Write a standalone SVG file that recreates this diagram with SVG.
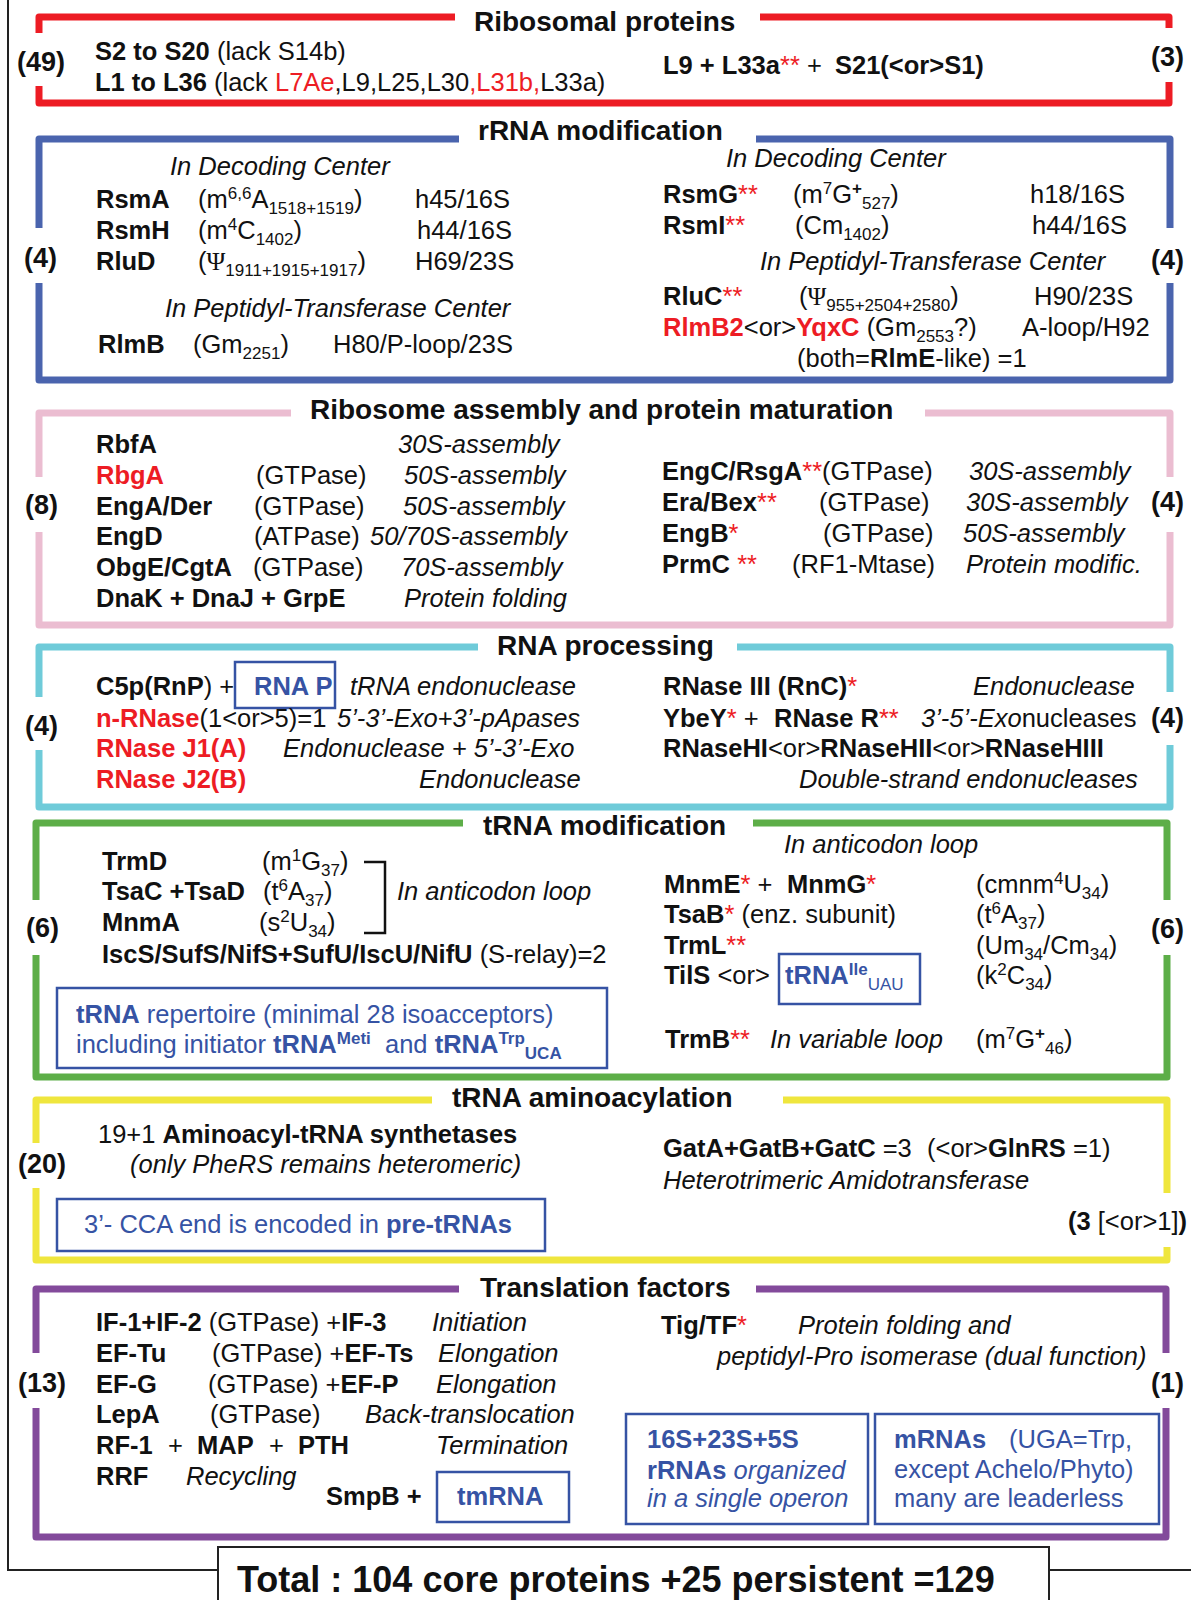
<svg xmlns="http://www.w3.org/2000/svg" width="1191" height="1600" viewBox="0 0 1191 1600">
<style>
text{font-family:"Liberation Sans",Arial,sans-serif;font-size:25.5px;fill:#111}
.b{font-weight:bold}
.i{font-style:italic}
.r{fill:#ED1C24}
.bl{fill:#3653A4}
.t{font-size:28px;font-weight:bold}
.n{font-size:27px;font-weight:bold}
.s{font-size:17px}
.g{font-family:"Liberation Serif","Times New Roman",serif}
.br{fill:none;stroke-width:7;stroke-linejoin:round}
.box{fill:none;stroke:#3653A4;stroke-width:2.5}
.frame{fill:none;stroke:#222;stroke-width:2}
</style>
<rect width="1191" height="1600" fill="#fff"/>

<g id="frame">
<path class="frame" d="M8,0 V1570 H218 M218,1600 V1547 H1049 V1600 M1049,1570 H1191"/>
<text class="b" x="237" y="1592" style="font-size:36px">Total : 104 core proteins +25 persistent =129</text>
</g>

<g id="ribosomal-proteins">
<path class="br" stroke="#ED1C24" d="M39,33 V17 H455 M760,17 H1169 V28 M1169,82 V103 H39 V86"/>
<text class="t" x="474" y="31">Ribosomal proteins</text>
<text class="n" x="17" y="71">(49)</text>
<text x="95" y="60"><tspan class="b">S2 to S20</tspan> (lack S14b)</text>
<text x="95" y="91"><tspan class="b">L1 to L36</tspan> (lack <tspan class="r">L7Ae</tspan>,L9,L25,L30<tspan class="r">,L31b,</tspan>L33a)</text>
<text x="663" y="74"><tspan class="b">L9 + L33a</tspan><tspan class="r">**</tspan> + <tspan class="b" x="835">S21(&lt;or&gt;S1)</tspan></text>
<text class="n" x="1151" y="66">(3)</text>
</g>

<g id="rrna-modification">
<path class="br" stroke="#4A64AE" d="M39,228 V139 H459 M756,139 H1170 V228 M1170,283 V380 H39 V283"/>
<text class="t" x="478" y="140">rRNA modification</text>
<text class="n" x="24" y="267">(4)</text>
<text class="i" x="170" y="175">In Decoding Center</text>
<text class="b" x="96" y="208">RsmA</text>
<text x="198" y="208">(m<tspan class="s" dy="-9">6,6</tspan><tspan dy="9">A</tspan><tspan class="s" dy="6">1518+1519</tspan><tspan dy="-6">)</tspan></text>
<text x="415" y="208">h45/16S</text>
<text class="b" x="96" y="239">RsmH</text>
<text x="198" y="239">(m<tspan class="s" dy="-9">4</tspan><tspan dy="9">C</tspan><tspan class="s" dy="6">1402</tspan><tspan dy="-6">)</tspan></text>
<text x="417" y="239">h44/16S</text>
<text class="b" x="96" y="270">RluD</text>
<text x="198" y="270">(<tspan class="g">Ψ</tspan><tspan class="s" dy="6">1911+1915+1917</tspan><tspan dy="-6">)</tspan></text>
<text x="415" y="270">H69/23S</text>
<text class="i" x="165" y="317">In Peptidyl-Transferase Center</text>
<text class="b" x="98" y="353">RlmB</text>
<text x="193" y="353">(Gm<tspan class="s" dy="6">2251</tspan><tspan dy="-6">)</tspan></text>
<text x="333" y="353">H80/P-loop/23S</text>

<text class="i" x="726" y="167">In Decoding Center</text>
<text x="663" y="203"><tspan class="b">RsmG</tspan><tspan class="r">**</tspan></text>
<text x="793" y="203">(m<tspan class="s" dy="-9">7</tspan><tspan dy="9">G</tspan><tspan class="s b" dy="-9">+</tspan><tspan class="s" dy="15">527</tspan><tspan dy="-6">)</tspan></text>
<text x="1030" y="203">h18/16S</text>
<text x="663" y="234"><tspan class="b">RsmI</tspan><tspan class="r">**</tspan></text>
<text x="795" y="234">(Cm<tspan class="s" dy="6">1402</tspan><tspan dy="-6">)</tspan></text>
<text x="1032" y="234">h44/16S</text>
<text class="i" x="760" y="270">In Peptidyl-Transferase Center</text>
<text x="663" y="305"><tspan class="b">RluC</tspan><tspan class="r">**</tspan></text>
<text x="799" y="305">(<tspan class="g">Ψ</tspan><tspan class="s" dy="6">955+2504+2580</tspan><tspan dy="-6">)</tspan></text>
<text x="1034" y="305">H90/23S</text>
<text x="663" y="336"><tspan class="b r">RlmB2</tspan>&lt;or&gt;<tspan class="b r">YqxC</tspan> (Gm<tspan class="s" dy="6">2553</tspan><tspan dy="-6">?)</tspan></text>
<text x="1022" y="336">A-loop/H92</text>
<text x="797" y="367">(both=<tspan class="b">RlmE</tspan>-like) =1</text>
<text class="n" x="1151" y="269">(4)</text>
</g>

<g id="ribosome-assembly">
<path class="br" stroke="#EBBDD1" d="M39,477 V413 H291 M925,413 H1170 V477 M1170,532 V625 H39 V532"/>
<text class="t" x="310" y="419">Ribosome assembly and protein maturation</text>
<text class="n" x="25" y="514">(8)</text>
<text class="b" x="96" y="453">RbfA</text>
<text class="i" x="398" y="453">30S-assembly</text>
<text class="b r" x="96" y="484">RbgA</text>
<text x="256" y="484">(GTPase)</text>
<text class="i" x="404" y="484">50S-assembly</text>
<text class="b" x="96" y="515">EngA/Der</text>
<text x="254" y="515">(GTPase)</text>
<text class="i" x="403" y="515">50S-assembly</text>
<text class="b" x="96" y="545">EngD</text>
<text x="254" y="545">(ATPase)</text>
<text class="i" x="370" y="545">50/70S-assembly</text>
<text class="b" x="96" y="576">ObgE/CgtA</text>
<text x="253" y="576">(GTPase)</text>
<text class="i" x="401" y="576">70S-assembly</text>
<text class="b" x="96" y="607">DnaK + DnaJ + GrpE</text>
<text class="i" x="404" y="607">Protein folding</text>

<text x="662" y="480"><tspan class="b">EngC/RsgA</tspan><tspan class="r">**</tspan>(GTPase)</text>
<text class="i" x="969" y="480">30S-assembly</text>
<text x="662" y="511"><tspan class="b">Era/Bex</tspan><tspan class="r">**</tspan></text>
<text x="819" y="511">(GTPase)</text>
<text class="i" x="966" y="511">30S-assembly</text>
<text x="662" y="542"><tspan class="b">EngB</tspan><tspan class="r">*</tspan></text>
<text x="823" y="542">(GTPase)</text>
<text class="i" x="963" y="542">50S-assembly</text>
<text x="662" y="573"><tspan class="b">PrmC</tspan> <tspan class="r">**</tspan></text>
<text x="792" y="573">(RF1-Mtase)</text>
<text class="i" x="966" y="573">Protein modific.</text>
<text class="n" x="1151" y="511">(4)</text>
</g>

<g id="rna-processing">
<path class="br" stroke="#6FCBD9" d="M39,697 V647 H478 M737,647 H1170 V692 M1170,745 V807 H39 V750"/>
<text class="t" x="497" y="655">RNA processing</text>
<text class="n" x="25" y="735">(4)</text>
<text x="96" y="695"><tspan class="b">C5p(RnP</tspan>) +</text>
<rect class="box" x="235" y="662" width="100" height="46"/>
<text class="b bl" x="254" y="695">RNA P</text>
<text class="i" x="350" y="695">tRNA endonuclease</text>
<text x="96" y="727"><tspan class="b r">n-RNase</tspan>(1&lt;or&gt;5)=1</text>
<text class="i" x="337" y="727">5’-3’-Exo+3’-pApases</text>
<text class="b r" x="96" y="757">RNase J1(A)</text>
<text class="i" x="283" y="757">Endonuclease + 5’-3’-Exo</text>
<text class="b r" x="96" y="788">RNase J2(B)</text>
<text class="i" x="419" y="788">Endonuclease</text>

<text x="663" y="695"><tspan class="b">RNase III (RnC)</tspan><tspan class="r">*</tspan></text>
<text class="i" x="973" y="695">Endonuclease</text>
<text x="663" y="727"><tspan class="b">YbeY</tspan><tspan class="r">*</tspan> + <tspan class="b" x="774">RNase R</tspan><tspan class="r">**</tspan></text>
<text x="921" y="727"><tspan class="i">3’-5’-Exo</tspan>nucleases</text>
<text x="663" y="757"><tspan class="b">RNaseHI</tspan>&lt;or&gt;<tspan class="b">RNaseHII</tspan>&lt;or&gt;<tspan class="b">RNaseHIII</tspan></text>
<text class="i" x="799" y="788">Double-strand endonucleases</text>
<text class="n" x="1151" y="727">(4)</text>
</g>

<g id="trna-modification">
<path class="br" stroke="#5DAE48" d="M36,900 V823 H463 M753,823 H1167 V900 M1167,955 V1077 H36 V955"/>
<text class="t" x="483" y="835">tRNA modification</text>
<text class="n" x="26" y="937">(6)</text>
<text class="b" x="102" y="870">TrmD</text>
<text x="262" y="870">(m<tspan class="s" dy="-9">1</tspan><tspan dy="9">G</tspan><tspan class="s" dy="6">37</tspan><tspan dy="-6">)</tspan></text>
<text class="b" x="102" y="900">TsaC +TsaD</text>
<text x="263" y="900">(t<tspan class="s" dy="-9">6</tspan><tspan dy="9">A</tspan><tspan class="s" dy="6">37</tspan><tspan dy="-6">)</tspan></text>
<text class="b" x="102" y="931">MnmA</text>
<text x="259" y="931">(s<tspan class="s" dy="-9">2</tspan><tspan dy="9">U</tspan><tspan class="s" dy="6">34</tspan><tspan dy="-6">)</tspan></text>
<path d="M364,862 H385 V933 H364" fill="none" stroke="#111" stroke-width="2.5"/>
<text class="i" x="397" y="900">In anticodon loop</text>
<text x="102" y="963"><tspan class="b">IscS/SufS/NifS+SufU/IscU/NifU</tspan> (S-relay)=2</text>
<rect class="box" x="57" y="988" width="550" height="80"/>
<text class="bl" x="76" y="1023"><tspan class="b">tRNA</tspan> repertoire (minimal 28 isoacceptors)</text>
<text class="bl" x="76" y="1053">including initiator <tspan class="b">tRNA</tspan><tspan class="b s" dy="-9">Meti</tspan><tspan x="385" dy="9">and </tspan><tspan class="b">tRNA</tspan><tspan class="b s" dy="-9">Trp</tspan><tspan class="b s" dy="15">UCA</tspan></text>

<text class="i" x="784" y="853">In anticodon loop</text>
<text x="664" y="893"><tspan class="b">MnmE</tspan><tspan class="r">*</tspan> + <tspan class="b" x="787">MnmG</tspan><tspan class="r">*</tspan></text>
<text x="976" y="893">(cmnm<tspan class="s" dy="-9">4</tspan><tspan dy="9">U</tspan><tspan class="s" dy="6">34</tspan><tspan dy="-6">)</tspan></text>
<text x="664" y="923"><tspan class="b">TsaB</tspan><tspan class="r">*</tspan> (enz. subunit)</text>
<text x="976" y="923">(t<tspan class="s" dy="-9">6</tspan><tspan dy="9">A</tspan><tspan class="s" dy="6">37</tspan><tspan dy="-6">)</tspan></text>
<text x="664" y="954"><tspan class="b">TrmL</tspan><tspan class="r">**</tspan></text>
<text x="976" y="954">(Um<tspan class="s" dy="6">34</tspan><tspan dy="-6">/Cm</tspan><tspan class="s" dy="6">34</tspan><tspan dy="-6">)</tspan></text>
<text x="664" y="984"><tspan class="b">TilS</tspan> &lt;or&gt;</text>
<rect class="box" x="779" y="954" width="141" height="50"/>
<text class="bl" x="785" y="984"><tspan class="b">tRNA</tspan><tspan class="b s" dy="-9">Ile</tspan><tspan class="s" dy="15">UAU</tspan></text>
<text x="976" y="984">(k<tspan class="s" dy="-9">2</tspan><tspan dy="9">C</tspan><tspan class="s" dy="6">34</tspan><tspan dy="-6">)</tspan></text>
<text x="665" y="1048"><tspan class="b">TrmB</tspan><tspan class="r">**</tspan></text>
<text class="i" x="770" y="1048">In variable loop</text>
<text x="976" y="1048">(m<tspan class="s" dy="-9">7</tspan><tspan dy="9">G</tspan><tspan class="s b" dy="-9">+</tspan><tspan class="s" dy="15">46</tspan><tspan dy="-6">)</tspan></text>
<text class="n" x="1151" y="938">(6)</text>
</g>

<g id="trna-aminoacylation">
<path class="br" stroke="#EFE63D" d="M36,1143 V1100 H432 M783,1100 H1167 V1193 M1167,1247 V1260 H36 V1188"/>
<text class="t" x="452" y="1107">tRNA aminoacylation</text>
<text class="n" x="18" y="1173">(20)</text>
<text x="98" y="1143">19+1 <tspan class="b">Aminoacyl-tRNA synthetases</tspan></text>
<text class="i" x="130" y="1173">(only PheRS remains heteromeric)</text>
<rect class="box" x="57" y="1199" width="488" height="52"/>
<text class="bl" x="84" y="1233">3’- CCA end is encoded in <tspan class="b">pre-tRNAs</tspan></text>
<text x="663" y="1157"><tspan class="b">GatA+GatB+GatC</tspan> =3 <tspan x="927">(&lt;or&gt;</tspan><tspan class="b">GlnRS</tspan> =1)</text>
<text class="i" x="663" y="1189">Heterotrimeric Amidotransferase</text>
<text x="1068" y="1230"><tspan class="b">(3</tspan> [&lt;or&gt;1]<tspan class="b">)</tspan></text>
</g>

<g id="translation-factors">
<path class="br" stroke="#834A9B" d="M36,1353 V1289 H459 M756,1289 H1166 V1353 M1166,1408 V1537 H36 V1408"/>
<text class="t" x="480" y="1297">Translation factors</text>
<text class="n" x="18" y="1392">(13)</text>
<text x="96" y="1331"><tspan class="b">IF-1+IF-2</tspan> (GTPase) +<tspan class="b">IF-3</tspan></text>
<text class="i" x="432" y="1331">Initiation</text>
<text class="b" x="96" y="1362">EF-Tu</text>
<text x="212" y="1362">(GTPase) +<tspan class="b">EF-Ts</tspan></text>
<text class="i" x="438" y="1362">Elongation</text>
<text class="b" x="96" y="1393">EF-G</text>
<text x="208" y="1393">(GTPase) +<tspan class="b">EF-P</tspan></text>
<text class="i" x="436" y="1393">Elongation</text>
<text class="b" x="96" y="1423">LepA</text>
<text x="210" y="1423">(GTPase)</text>
<text class="i" x="365" y="1423">Back-translocation</text>
<text x="96" y="1454"><tspan class="b">RF-1</tspan><tspan x="168">+</tspan><tspan class="b" x="197">MAP</tspan><tspan x="269">+</tspan><tspan class="b" x="298">PTH</tspan></text>
<text class="i" x="436" y="1454">Termination</text>
<text class="b" x="96" y="1485">RRF</text>
<text class="i" x="186" y="1485">Recycling</text>
<text class="b" x="326" y="1505">SmpB +</text>
<rect class="box" x="437" y="1472" width="132" height="50"/>
<text class="b bl" x="457" y="1505">tmRNA</text>

<text x="661" y="1334"><tspan class="b">Tig/TF</tspan><tspan class="r">*</tspan></text>
<text class="i" x="798" y="1334">Protein folding and</text>
<text class="i" x="717" y="1365">peptidyl-Pro isomerase (dual function)</text>
<text class="n" x="1151" y="1392">(1)</text>
<rect class="box" x="626" y="1414" width="242" height="110"/>
<text class="b bl" x="647" y="1448">16S+23S+5S</text>
<text class="bl" x="647" y="1479"><tspan class="b">rRNAs</tspan> <tspan class="i">organized</tspan></text>
<text class="bl i" x="647" y="1507">in a single operon</text>
<rect class="box" x="875" y="1414" width="284" height="110"/>
<text class="bl" x="894" y="1448"><tspan class="b">mRNAs</tspan><tspan x="1009">(UGA=Trp,</tspan></text>
<text class="bl" x="894" y="1478">except Achelo/Phyto)</text>
<text class="bl" x="894" y="1507">many are leaderless</text>
</g>

<g id="connectors"></g>
</svg>
